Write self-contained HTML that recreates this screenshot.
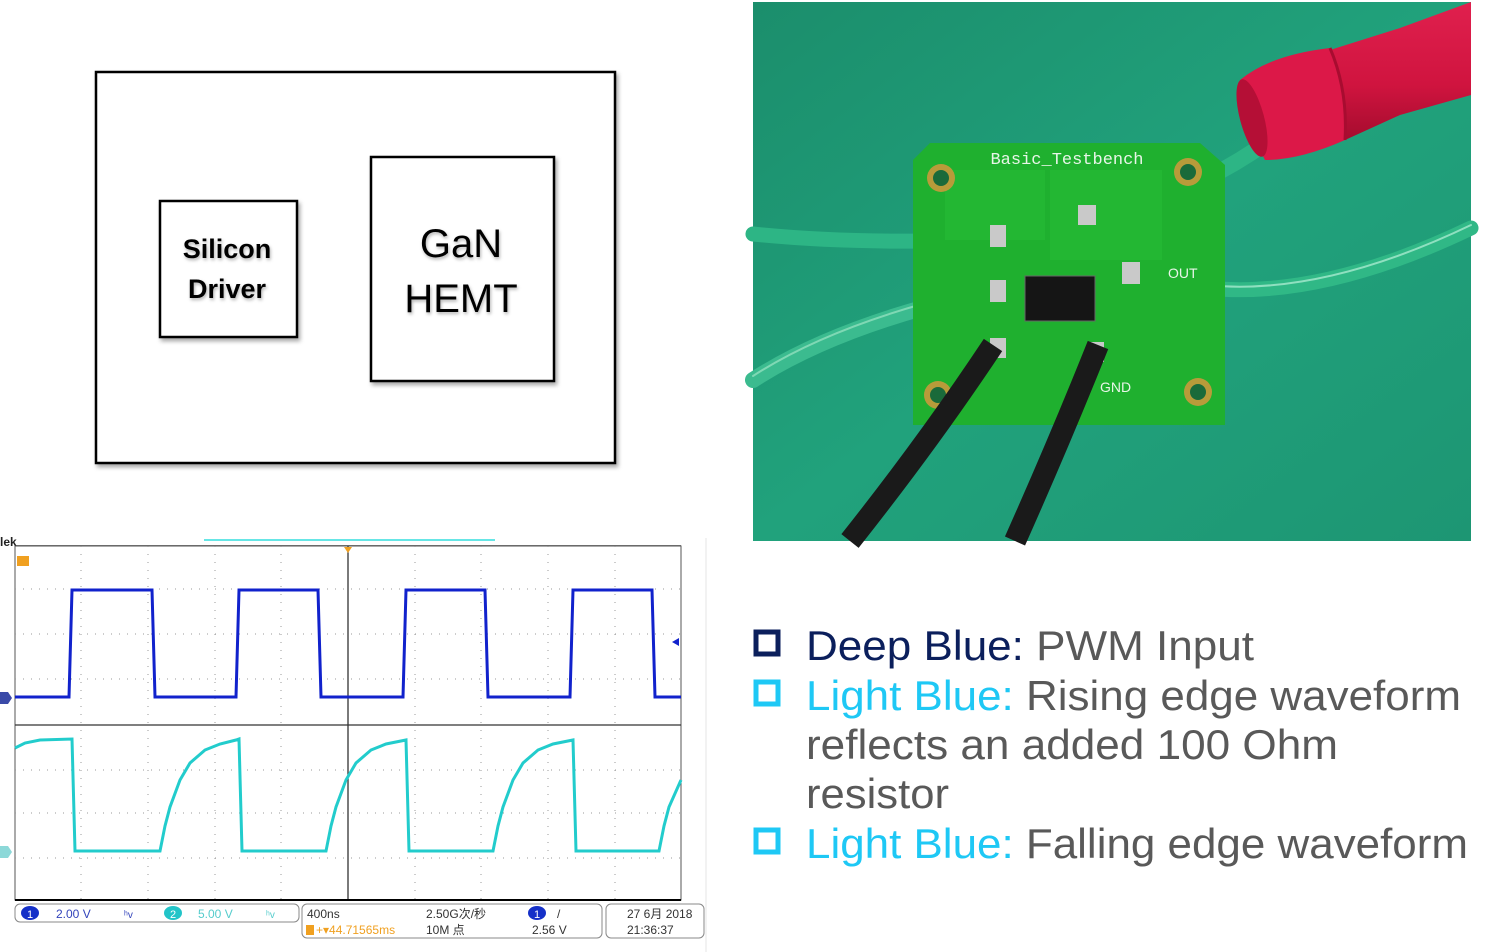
<!DOCTYPE html>
<html><head><meta charset="utf-8"><style>
html,body{margin:0;padding:0;background:#fff;}
svg{display:block;}
</style></head><body>
<svg width="1500" height="952" viewBox="0 0 1500 952" xmlns="http://www.w3.org/2000/svg">
<defs>
<filter id="sh" x="-10%" y="-10%" width="130%" height="130%"><feDropShadow dx="2" dy="3" stdDeviation="2" flood-color="#000" flood-opacity="0.35"/></filter>
<filter id="tsh"><feDropShadow dx="1" dy="2" stdDeviation="1.5" flood-color="#000" flood-opacity="0.3"/></filter>
<linearGradient id="bg" x1="0" y1="0" x2="1" y2="1"><stop offset="0" stop-color="#1b8e6c"/><stop offset="0.5" stop-color="#21a27c"/><stop offset="1" stop-color="#1d9673"/></linearGradient>
<linearGradient id="red" x1="0" y1="0" x2="0" y2="1"><stop offset="0" stop-color="#e0204e"/><stop offset="0.6" stop-color="#d0143f"/><stop offset="1" stop-color="#a50c2e"/></linearGradient>
</defs>

<rect x="96" y="72" width="519" height="391" fill="#fff" stroke="#000" stroke-width="2.5" filter="url(#sh)"/>
<rect x="160" y="201" width="137" height="136" fill="#fff" stroke="#000" stroke-width="2.5" filter="url(#sh)"/>
<rect x="371" y="157" width="183" height="224" fill="#fff" stroke="#000" stroke-width="2.5" filter="url(#sh)"/>
<g filter="url(#tsh)" font-family="Liberation Sans, sans-serif" text-anchor="middle" fill="#000">
<text x="227" y="258" font-size="27" font-weight="bold">Silicon</text>
<text x="227" y="298" font-size="27" font-weight="bold">Driver</text>
<text x="461" y="257" font-size="40">GaN</text>
<text x="461" y="312" font-size="40">HEMT</text>
</g>

<!-- Photo -->
<rect x="753" y="2" width="718" height="539" fill="url(#bg)"/>
<g fill="none" stroke-linecap="round">
<path d="M753 234 Q850 244 975 240" stroke="#2db585" stroke-width="15"/>
<path d="M753 380 Q830 330 960 298" stroke="#3bbb8f" stroke-width="16"/>
<path d="M753 380 Q830 330 960 298" stroke="#7fd8b4" stroke-width="2" transform="translate(0,-4)"/>
<path d="M1175 283 Q1300 310 1471 228" stroke="#30b886" stroke-width="15"/>
<path d="M1175 283 Q1300 310 1471 228" stroke="#8fe0c0" stroke-width="2" transform="translate(0,-3)"/>
<path d="M1125 208 Q1200 190 1270 140" stroke="#2db585" stroke-width="16"/>
</g>
<path d="M930 143 L1200 143 L1225 165 L1225 425 L913 425 L913 160 Z" fill="#1fb02f"/>
<rect x="945" y="170" width="100" height="70" fill="#23b733"/>
<rect x="1050" y="170" width="112" height="90" fill="#23b733"/>
<rect x="1025" y="276" width="70" height="45" fill="#151515" stroke="#666" stroke-width="1"/>
<text x="1067" y="164" font-family="Liberation Mono, monospace" font-size="17" fill="#e8f5e8" text-anchor="middle">Basic_Testbench</text>
<circle cx="941" cy="178" r="14" fill="#b89b3a"/><circle cx="941" cy="178" r="8" fill="#1a6a3a"/>
<circle cx="1188" cy="172" r="14" fill="#b89b3a"/><circle cx="1188" cy="172" r="8" fill="#1a6a3a"/>
<circle cx="1198" cy="392" r="14" fill="#b89b3a"/><circle cx="1198" cy="392" r="8" fill="#1a6a3a"/>
<circle cx="938" cy="395" r="14" fill="#b89b3a"/><circle cx="938" cy="395" r="8" fill="#1a6a3a"/>
<g fill="#e8f5e8" font-family="Liberation Sans, sans-serif" font-size="14">
<text x="1100" y="392">GND</text><text x="1168" y="278">OUT</text>
</g>
<g fill="#c9c9c9"><rect x="990" y="225" width="16" height="22"/><rect x="990" y="280" width="16" height="22"/><rect x="1078" y="205" width="18" height="20"/><rect x="1122" y="262" width="18" height="22"/><rect x="990" y="338" width="16" height="20"/><rect x="1090" y="342" width="14" height="20"/></g>
<path d="M993 345 Q930 440 850 541" stroke="#1a1a1a" stroke-width="22" fill="none"/>
<path d="M1098 345 Q1060 440 1015 541" stroke="#1a1a1a" stroke-width="22" fill="none"/>
<!-- red probe -->
<path d="M1330 50 L1400 28 L1471 2 L1471 95 L1400 115 L1345 140 Z" fill="url(#red)"/>
<path d="M1240 80 Q1270 55 1330 48 Q1348 90 1345 140 Q1300 160 1265 160 Q1245 125 1240 80 Z" fill="#dc1848"/>
<ellipse cx="1252" cy="118" rx="12" ry="40" fill="#b50f36" transform="rotate(-15 1252 118)"/>
<path d="M1330 48 Q1348 90 1345 140" stroke="#a80c30" stroke-width="3" fill="none"/>

<!-- Scope -->
<rect x="0" y="538" width="706" height="414" fill="#fff"/>
<line x1="706" y1="538" x2="706" y2="952" stroke="#e6e6e6"/>
<text x="0" y="546" font-family="Liberation Sans, sans-serif" font-size="12" font-weight="bold" fill="#222">lek</text>
<line x1="204" y1="540" x2="495" y2="540" stroke="#3dd" stroke-width="1.5"/>
<line x1="15" y1="546" x2="681" y2="546" stroke="#000" stroke-width="1.5"/>
<rect x="15" y="546" width="666" height="354" fill="#fff" stroke="#555" stroke-width="1"/>
<g stroke="#999" stroke-width="1" stroke-dasharray="1 7">
<line x1="81" y1="546" x2="81" y2="900"/><line x1="148" y1="546" x2="148" y2="900"/><line x1="215" y1="546" x2="215" y2="900"/><line x1="281" y1="546" x2="281" y2="900"/>
<line x1="415" y1="546" x2="415" y2="900"/><line x1="481" y1="546" x2="481" y2="900"/><line x1="548" y1="546" x2="548" y2="900"/><line x1="615" y1="546" x2="615" y2="900"/>
<line x1="15" y1="589" x2="681" y2="589"/><line x1="15" y1="634" x2="681" y2="634"/><line x1="15" y1="679" x2="681" y2="679"/>
<line x1="15" y1="770" x2="681" y2="770"/><line x1="15" y1="813" x2="681" y2="813"/><line x1="15" y1="858" x2="681" y2="858"/>
</g>
<line x1="348" y1="546" x2="348" y2="900" stroke="#333" stroke-width="1.3"/>
<line x1="15" y1="725" x2="681" y2="725" stroke="#333" stroke-width="1.3"/>
<line x1="15" y1="900" x2="681" y2="900" stroke="#000" stroke-width="2"/>
<polygon points="344,547 352,547 348,553" fill="#f0a020"/>
<rect x="17" y="556" width="12" height="10" fill="#f0a020"/>
<path d="M0 692 L8 692 L12 698 L8 704 L0 704 Z" fill="#3a4aa8"/>
<path d="M0 846 L8 846 L12 852 L8 858 L0 858 Z" fill="#8cd8d8"/>
<path d="M15 697 L69 697 L72 590 L152 590 L155 697 L236 697 L239 590 L318 590 L321 697 L403 697 L406 590 L485 590 L488 697 L570 697 L573 590 L652 590 L655 697 L681 697" fill="none" stroke="#1122cc" stroke-width="3"/>
<polygon points="672,642 679,638 679,646" fill="#1122cc"/>
<path d="M15 748 L25 743 L40 740 L72 739 L75 851 L160 851 L165 826 L170 807 L180 780 L190 763 L205 750 L220 744 L236 740 L239 739 L242 851 L326 851 L331 826 L336 807 L346 780 L356 763 L371 750 L386 744 L406 740 L409 851 L493 851 L498 826 L503 807 L513 780 L523 763 L538 750 L553 744 L573 740 L576 851 L659 851 L664 826 L669 807 L681 780" fill="none" stroke="#22cccc" stroke-width="3"/>
<g font-family="Liberation Sans, sans-serif" font-size="12">
<rect x="15" y="904" width="284" height="18" rx="5" fill="#fff" stroke="#888"/>
<ellipse cx="30" cy="913" rx="9" ry="7" fill="#1530c8"/><text x="27" y="918" fill="#fff" font-size="11">1</text>
<text x="56" y="918" fill="#3344bb">2.00 V</text><text x="124" y="918" fill="#3344bb" font-size="10">ʰv</text>
<ellipse cx="173" cy="913" rx="9" ry="7" fill="#22c4c8"/><text x="170" y="918" fill="#fff" font-size="11">2</text>
<text x="198" y="918" fill="#55cccc">5.00 V</text><text x="266" y="918" fill="#55cccc" font-size="10">ʰv</text>
<rect x="302" y="904" width="300" height="34" rx="5" fill="#fff" stroke="#888"/>
<text x="307" y="918" fill="#333">400ns</text>
<rect x="306" y="925" width="8" height="10" fill="#f0a020"/>
<text x="316" y="934" fill="#f0a020">+▾44.71565ms</text>
<text x="426" y="918" fill="#333" font-family="Liberation Sans, 'Noto Sans CJK SC', sans-serif">2.50G次/秒</text>
<text x="426" y="934" fill="#333" font-family="Liberation Sans, 'Noto Sans CJK SC', sans-serif">10M 点</text>
<ellipse cx="537" cy="913" rx="9" ry="7" fill="#1530c8"/><text x="534" y="918" fill="#fff" font-size="11">1</text>
<text x="557" y="918" fill="#333">/</text>
<text x="532" y="934" fill="#333">2.56 V</text>
<rect x="606" y="904" width="98" height="34" rx="5" fill="#fff" stroke="#888"/>
<text x="627" y="918" fill="#333" font-family="Liberation Sans, 'Noto Sans CJK SC', sans-serif">27 6月 2018</text>
<text x="627" y="934" fill="#333">21:36:37</text>
</g>

<rect x="756" y="632" width="22" height="22" fill="none" stroke="#0b1f5c" stroke-width="5"/>
<rect x="756" y="682" width="22" height="22" fill="none" stroke="#1ec8f5" stroke-width="5"/>
<rect x="756" y="830" width="22" height="22" fill="none" stroke="#1ec8f5" stroke-width="5"/>
<g font-family="Liberation Sans, sans-serif" font-size="42" fill="#595959">
<text x="806" y="660" textLength="448" lengthAdjust="spacingAndGlyphs"><tspan fill="#0b1f5c">Deep Blue:</tspan> PWM Input</text>
<text x="806" y="710" textLength="655" lengthAdjust="spacingAndGlyphs"><tspan fill="#1ec8f5">Light Blue:</tspan> Rising edge waveform</text>
<text x="806" y="759" textLength="532" lengthAdjust="spacingAndGlyphs">reflects an added 100 Ohm</text>
<text x="806" y="808" textLength="143" lengthAdjust="spacingAndGlyphs">resistor</text>
<text x="806" y="858" textLength="662" lengthAdjust="spacingAndGlyphs"><tspan fill="#1ec8f5">Light Blue:</tspan> Falling edge waveform</text>
</g>
</svg>
</body></html>
